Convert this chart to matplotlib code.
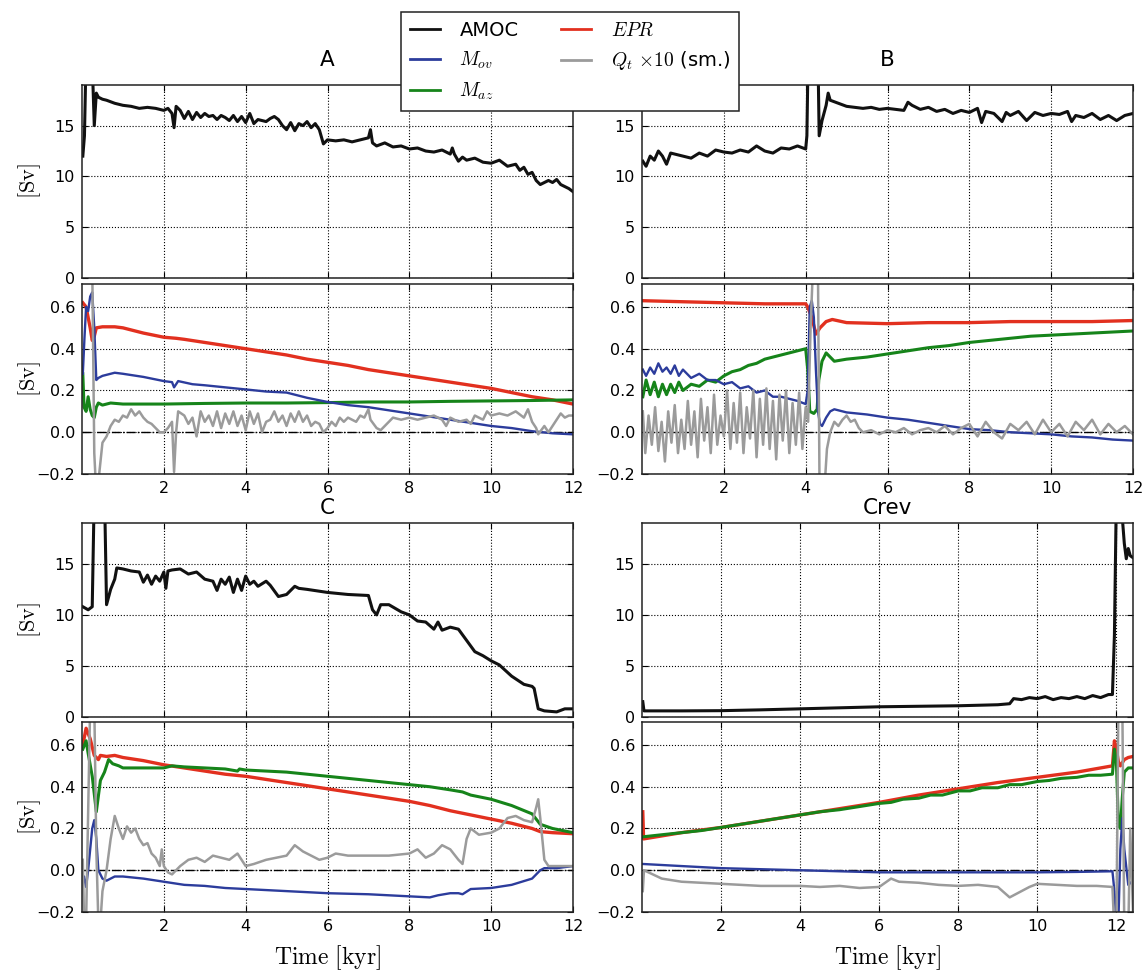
import numpy as np
import matplotlib
matplotlib.use("Agg")
import matplotlib.pyplot as plt

plt.rcParams['mathtext.fontset'] = 'cm'
plt.rcParams['font.family'] = 'DejaVu Sans'

# ---------------- panel A ----------------
a_amoc_t = [0.02,0.06,0.10,0.14,0.20,0.26,0.30,0.35,0.40,0.50,
            0.60,0.80,1.00,1.20,1.40,1.60,1.80,2.00,2.10,2.20,
            2.25,2.30,2.40,2.50,2.60,2.70,2.80,2.90,3.00,3.10,
            3.20,3.30,3.40,3.50,3.60,3.70,3.80,3.90,4.00,4.10,
            4.20,4.30,4.40,4.50,4.60,4.70,4.80,4.90,5.00,5.10,
            5.20,5.30,5.40,5.50,5.60,5.70,5.80,5.90,6.00,6.20,
            6.40,6.60,6.80,7.00,7.05,7.10,7.20,7.40,7.60,7.80,
            8.00,8.20,8.40,8.60,8.80,9.00,9.05,9.10,9.20,9.30,
            9.40,9.60,9.80,10.0,10.2,10.4,10.6,10.7,10.8,10.9,
            11.0,11.1,11.2,11.4,11.5,11.6,11.7,11.8,11.9,12.0]
a_amoc = [12.0,14.0,22.0,24.0,22.0,20.0,15.0,18.2,17.8,17.6,
          17.5,17.2,17.0,16.9,16.7,16.8,16.7,16.5,16.7,16.2,
          14.8,16.9,16.5,15.7,16.4,15.6,16.3,15.8,16.2,15.9,
          16.0,15.6,16.0,15.8,15.5,16.0,15.4,15.9,15.3,16.2,
          15.2,15.6,15.5,15.4,15.7,15.9,15.6,15.0,14.6,15.3,
          14.5,15.2,15.0,15.4,14.8,15.2,14.6,13.2,13.6,13.5,
          13.6,13.4,13.6,13.8,14.6,13.3,13.0,13.3,12.9,13.0,
          12.7,12.8,12.5,12.4,12.6,12.2,12.8,12.2,11.5,11.9,
          11.6,11.8,11.4,11.3,11.6,11.0,11.2,10.6,10.9,10.2,
          10.4,9.6,9.2,9.6,9.4,9.7,9.2,9.0,8.8,8.5]

a_epr_t = [0.02,0.1,0.2,0.25,0.3,0.35,0.5,0.8,1.0,1.2,1.5,2.0,2.3,2.5,3.0,3.5,
           4.0,4.5,5.0,5.5,6.0,6.5,7.0,7.5,8.0,8.5,9.0,9.5,10.0,10.5,11.0,11.5,12.0]
a_epr = [0.62,0.6,0.5,0.44,0.46,0.5,0.505,0.505,0.5,0.49,0.475,0.455,0.45,0.445,0.43,0.415,
         0.40,0.385,0.37,0.35,0.335,0.32,0.30,0.285,0.27,0.255,0.24,0.225,0.21,0.19,0.17,0.155,0.135]

a_mov_t = [0.02,0.06,0.10,0.15,0.20,0.25,0.30,0.35,0.40,0.50,
           0.80,1.00,1.50,2.00,2.20,2.25,2.35,2.70,3.00,3.50,
           4.00,4.50,5.00,5.50,6.00,6.50,7.00,7.50,8.00,8.50,
           9.00,9.50,10.0,10.5,11.0,11.5,12.0]
a_mov = [0.28,0.45,0.60,0.58,0.65,0.67,0.50,0.25,0.26,0.27,
         0.285,0.28,0.265,0.245,0.24,0.215,0.245,0.23,0.225,0.215,
         0.205,0.195,0.19,0.165,0.145,0.13,0.12,0.105,0.09,0.075,
         0.06,0.045,0.03,0.02,0.005,-0.005,-0.01]

a_maz_t = [0.02,0.05,0.10,0.15,0.20,0.25,0.30,0.35,0.40,0.50,
           0.70,1.00,2.00,3.00,4.00,5.00,6.00,7.00,8.00,9.00,
           10.0,11.0,12.0]
a_maz = [0.28,0.12,0.10,0.17,0.11,0.08,0.07,0.12,0.14,0.13,
         0.14,0.135,0.135,0.138,0.14,0.14,0.142,0.145,0.145,0.148,
         0.15,0.152,0.155]

a_qt_t = [0.02,0.15,0.25,0.30,0.35,0.42,0.50,0.60,0.70,0.80,
          0.90,1.00,1.10,1.20,1.30,1.40,1.50,1.60,1.70,1.80,
          1.90,2.00,2.10,2.20,2.25,2.30,2.35,2.50,2.60,2.70,
          2.80,2.90,3.00,3.10,3.20,3.30,3.40,3.50,3.60,3.70,
          3.80,3.90,4.00,4.10,4.20,4.30,4.40,4.50,4.60,4.70,
          4.80,4.90,5.00,5.10,5.20,5.30,5.40,5.50,5.60,5.70,
          5.80,5.90,6.00,6.10,6.20,6.30,6.40,6.50,6.60,6.70,
          6.80,6.90,7.00,7.05,7.20,7.30,7.40,7.50,7.60,7.80,
          8.00,8.20,8.40,8.60,8.80,8.90,9.00,9.20,9.40,9.50,
          9.60,9.80,9.90,10.0,10.2,10.4,10.6,10.8,10.9,11.0,
          11.1,11.15,11.3,11.4,11.6,11.7,11.8,11.9,12.0]
a_qt = [0.80,0.80,0.80,-0.10,-0.30,-0.20,-0.05,-0.02,0.03,0.06,
        0.05,0.08,0.07,0.11,0.08,0.10,0.07,0.05,0.04,0.02,
        0.00,0.00,0.02,0.05,-0.19,0.00,0.10,0.08,0.04,0.07,
        -0.02,0.10,0.05,0.08,0.03,0.10,0.02,0.09,0.04,0.10,
        0.03,0.08,0.01,0.10,0.04,0.09,0.00,0.05,0.06,0.10,
        0.05,0.08,0.03,0.09,0.05,0.10,0.05,0.08,0.03,0.05,
        0.04,0.00,0.02,0.05,0.03,0.07,0.05,0.07,0.06,0.05,
        0.08,0.07,0.11,0.06,0.02,0.01,0.03,0.05,0.07,0.06,
        0.07,0.06,0.07,0.08,0.06,0.03,0.07,0.05,0.06,0.04,
        0.08,0.06,0.10,0.08,0.09,0.08,0.10,0.07,0.11,0.05,
        0.02,-0.01,0.03,0.00,0.06,0.09,0.07,0.08,0.08]

# ---------------- panel B ----------------
b_amoc_t = [0.02,0.10,0.20,0.30,0.40,0.50,0.60,0.70,0.80,1.00,
            1.20,1.40,1.60,1.80,2.00,2.20,2.40,2.60,2.80,3.00,
            3.20,3.40,3.60,3.80,4.00,4.03,4.06,4.30,4.33,4.40,
            4.50,4.55,4.60,4.80,5.00,5.20,5.40,5.60,5.80,6.00,
            6.20,6.40,6.50,6.60,6.80,7.00,7.20,7.40,7.60,7.80,
            8.00,8.20,8.30,8.40,8.60,8.80,8.90,9.00,9.20,9.40,
            9.60,9.80,10.0,10.2,10.4,10.5,10.6,10.8,11.0,11.2,
            11.4,11.6,11.8,12.0]
b_amoc = [11.5,11.0,12.0,11.6,12.5,12.0,11.2,12.3,12.2,12.0,
          11.8,12.3,12.0,12.6,12.4,12.3,12.6,12.4,13.0,12.5,
          12.3,12.8,12.7,13.0,12.7,14.0,22.0,22.0,14.0,15.5,
          17.0,18.2,17.5,17.2,16.9,16.8,16.7,16.8,16.6,16.7,
          16.6,16.5,17.3,17.0,16.6,16.8,16.4,16.6,16.2,16.5,
          16.3,16.7,15.3,16.4,16.2,15.4,16.3,16.0,16.4,15.5,
          16.3,16.0,16.2,16.1,16.4,15.4,16.0,15.8,16.2,15.6,
          16.0,15.5,16.0,16.2]

b_epr_t = [0.02,1.0,2.0,3.0,4.0,4.05,4.15,4.25,4.35,4.50,
           4.65,5.0,6.0,7.0,8.0,9.0,10.0,11.0,12.0]
b_epr = [0.63,0.625,0.62,0.615,0.615,0.60,0.55,0.47,0.50,0.53,
         0.54,0.525,0.52,0.525,0.525,0.53,0.53,0.53,0.535]

b_mov_t = [0.02,0.10,0.20,0.30,0.40,0.50,0.60,0.70,0.80,0.90,
           1.00,1.20,1.40,1.60,1.80,2.00,2.20,2.40,2.60,2.80,
           3.00,3.20,3.40,3.60,3.80,4.00,4.05,4.10,4.15,4.20,
           4.25,4.30,4.35,4.40,4.50,4.60,4.70,5.00,5.50,6.00,
           6.50,7.00,7.50,8.00,8.50,9.00,9.50,10.0,10.5,11.0,
           11.5,12.0]
b_mov = [0.30,0.27,0.31,0.28,0.33,0.29,0.31,0.28,0.32,0.27,
         0.30,0.26,0.28,0.25,0.25,0.23,0.24,0.21,0.22,0.19,
         0.20,0.17,0.17,0.16,0.15,0.135,0.20,0.60,0.63,0.55,
         0.30,0.10,0.04,0.03,0.07,0.10,0.11,0.095,0.085,0.07,
         0.06,0.045,0.03,0.015,0.01,0.0,-0.005,-0.01,-0.02,-0.025,
         -0.035,-0.04]

b_maz_t = [0.02,0.10,0.20,0.30,0.40,0.50,0.60,0.70,0.80,0.90,
           1.00,1.20,1.40,1.60,1.80,2.00,2.20,2.40,2.60,2.80,
           3.00,3.20,3.40,3.60,3.80,4.00,4.05,4.10,4.20,4.28,
           4.32,4.40,4.50,4.60,4.70,5.00,5.50,6.00,6.50,7.00,
           7.50,8.00,8.50,9.00,9.50,10.0,10.5,11.0,11.5,12.0]
b_maz = [0.17,0.25,0.18,0.24,0.17,0.23,0.18,0.23,0.19,0.24,
         0.20,0.23,0.22,0.25,0.24,0.27,0.29,0.30,0.32,0.33,
         0.35,0.36,0.37,0.38,0.39,0.40,0.30,0.10,0.09,0.11,
         0.25,0.34,0.38,0.36,0.34,0.35,0.36,0.375,0.39,0.405,
         0.415,0.43,0.44,0.45,0.46,0.465,0.47,0.475,0.48,0.485]

b_qt_t = [0.02,0.08,0.16,0.24,0.32,0.40,0.48,0.56,0.64,0.72,
          0.80,0.88,0.96,1.04,1.12,1.20,1.28,1.36,1.44,1.52,
          1.60,1.68,1.76,1.84,1.92,2.00,2.08,2.16,2.24,2.32,
          2.40,2.48,2.56,2.64,2.72,2.80,2.88,2.96,3.04,3.12,
          3.20,3.28,3.36,3.44,3.52,3.60,3.68,3.76,3.84,3.92,
          4.00,
          4.06,4.12,4.18,4.30,4.34,4.45,4.52,4.6,4.7,4.8,
          4.9,5.0,5.1,5.2,5.3,5.4,5.6,5.8,6.0,6.2,
          6.4,6.6,6.8,7.0,7.2,7.4,7.6,7.8,8.0,8.2,
          8.4,8.6,8.8,9.0,9.2,9.4,9.6,9.8,10.0,10.2,
          10.4,10.6,10.8,11.0,11.2,11.4,11.6,11.8,12.0]
b_qt = [0.10,-0.10,0.08,-0.06,0.12,-0.09,0.05,-0.14,0.10,-0.05,
        0.13,-0.10,0.06,-0.08,0.15,-0.06,0.10,-0.12,0.16,-0.04,
        0.12,-0.10,0.18,-0.06,0.08,-0.02,0.20,-0.08,0.14,-0.05,
        0.19,-0.10,0.12,-0.03,0.20,-0.12,0.16,-0.06,0.21,-0.08,
        0.15,-0.13,0.18,-0.04,0.20,-0.10,0.14,-0.06,0.19,-0.08,
        0.12,
        0.05,0.5,0.8,0.8,-0.3,-0.3,-0.08,0.0,0.05,0.03,
        0.06,0.08,0.05,0.06,0.02,0.0,0.01,-0.01,0.01,0.0,
        0.02,-0.01,0.01,0.02,0.0,0.03,-0.01,0.02,0.04,-0.02,
        0.05,0.0,-0.03,0.04,0.01,0.05,-0.01,0.06,0.0,0.04,
        -0.02,0.05,0.01,0.06,-0.01,0.04,0.0,0.03,-0.01]

# ---------------- panel C ----------------
c_amoc_t = [0.02,0.15,0.25,0.30,0.55,0.60,0.70,0.80,0.85,1.00,
            1.20,1.40,1.50,1.60,1.70,1.80,1.90,2.00,2.05,2.10,
            2.20,2.40,2.60,2.80,3.00,3.20,3.30,3.40,3.50,3.60,
            3.70,3.80,3.90,4.00,4.10,4.20,4.30,4.50,4.60,4.80,
            5.00,5.20,5.30,5.50,6.00,6.50,7.00,7.10,7.20,7.30,
            7.50,7.80,8.00,8.20,8.40,8.60,8.70,8.80,9.00,9.20,
            9.40,9.60,9.80,10.0,10.2,10.5,10.8,11.0,11.05,11.15,
            11.3,11.6,11.8,12.0]
c_amoc = [10.8,10.5,10.8,22.0,22.0,11.0,12.5,13.5,14.6,14.5,
          14.3,14.2,13.2,13.9,13.0,13.8,13.3,14.2,12.6,14.3,
          14.4,14.5,14.0,14.2,13.5,13.3,12.4,13.5,13.0,13.7,
          12.2,13.5,12.4,13.8,13.0,13.3,12.8,13.3,12.9,11.8,
          12.0,12.8,12.6,12.5,12.2,12.0,11.9,10.5,10.0,11.0,
          11.0,10.3,10.0,9.4,9.3,8.6,9.3,8.5,8.8,8.6,
          7.5,6.4,6.0,5.5,5.1,4.0,3.2,3.0,2.8,0.8,
          0.6,0.5,0.8,0.8]

c_epr_t = [0.02,0.10,0.20,0.30,0.40,0.45,0.60,0.80,1.00,1.50,
           2.00,2.50,3.00,3.50,4.00,4.50,5.00,5.50,6.00,6.50,
           7.00,7.50,8.00,8.50,9.00,9.50,10.0,10.5,11.0,11.2,
           11.5,12.0]
c_epr = [0.60,0.68,0.63,0.55,0.53,0.55,0.545,0.55,0.54,0.525,
         0.505,0.49,0.475,0.46,0.45,0.435,0.42,0.405,0.39,0.375,
         0.36,0.345,0.33,0.31,0.285,0.265,0.245,0.225,0.20,0.185,
         0.18,0.175]

c_maz_t = [0.02,0.10,0.15,0.25,0.35,0.45,0.55,0.65,0.75,0.90,
           1.00,1.50,2.00,2.20,2.50,3.00,3.50,3.80,3.85,4.00,
           4.50,5.00,5.50,6.00,6.50,7.00,7.50,8.00,8.50,9.00,
           9.30,9.50,10.0,10.5,11.0,11.2,11.5,12.0]
c_maz = [0.58,0.62,0.56,0.45,0.28,0.43,0.47,0.53,0.51,0.50,
         0.49,0.49,0.49,0.50,0.495,0.49,0.485,0.475,0.485,0.48,
         0.475,0.47,0.46,0.45,0.44,0.43,0.42,0.41,0.40,0.385,
         0.375,0.36,0.34,0.31,0.27,0.22,0.20,0.18]

c_mov_t = [0.02,0.05,0.10,0.15,0.25,0.30,0.35,0.40,0.50,0.60,
           0.80,1.00,1.50,2.00,2.50,3.00,3.50,4.00,5.00,6.00,
           7.00,8.00,8.50,8.70,9.00,9.20,9.30,9.50,10.0,10.5,
           11.0,11.2,11.3,11.6,12.0]
c_mov = [-0.05,-0.03,-0.08,0.0,0.20,0.24,0.15,0.0,-0.04,-0.05,
         -0.03,-0.03,-0.04,-0.055,-0.07,-0.075,-0.085,-0.09,-0.10,-0.11,
         -0.115,-0.125,-0.13,-0.12,-0.11,-0.11,-0.115,-0.09,-0.085,-0.07,
         -0.04,0.0,0.01,0.01,0.02]

c_qt_t = [0.02,0.05,0.10,0.20,0.30,0.35,0.40,0.45,0.50,0.60,
          0.70,0.80,0.90,1.00,1.10,1.20,1.30,1.40,1.50,1.60,
          1.70,1.80,1.90,1.95,2.00,2.10,2.20,2.40,2.60,2.80,
          3.00,3.20,3.40,3.60,3.80,4.00,4.20,4.50,5.00,5.20,
          5.40,5.60,5.80,6.00,6.20,6.50,7.00,7.50,8.00,8.20,
          8.40,8.60,8.80,9.00,9.20,9.30,9.40,9.50,9.70,10.0,
          10.2,10.4,10.6,10.8,11.0,11.1,11.15,11.2,11.3,11.4,
          11.6,12.0]
c_qt = [0.05,-0.25,-0.25,0.80,0.80,0.10,-0.25,-0.25,-0.10,0.0,
        0.15,0.26,0.20,0.15,0.21,0.18,0.20,0.15,0.12,0.13,
        0.08,0.06,0.02,0.10,0.02,-0.01,-0.02,0.02,0.05,0.06,
        0.04,0.07,0.06,0.05,0.08,0.02,0.03,0.05,0.07,0.12,
        0.09,0.07,0.05,0.06,0.08,0.07,0.07,0.07,0.08,0.10,
        0.06,0.08,0.12,0.10,0.05,0.03,0.15,0.20,0.17,0.18,
        0.20,0.25,0.26,0.24,0.23,0.30,0.34,0.25,0.05,0.02,
        0.02,0.02]

# ---------------- panel Crev ----------------
r_amoc_t = [0.02,0.05,1.0,2.0,3.0,4.0,5.0,6.0,7.0,8.0,
            9.0,9.3,9.4,9.6,9.8,10.0,10.2,10.4,10.6,10.8,
            11.0,11.2,11.4,11.6,11.8,11.9,11.95,12.0,12.1,12.2,
            12.25,12.3,12.35,12.42]
r_amoc = [1.5,0.6,0.6,0.62,0.7,0.8,0.9,1.0,1.05,1.1,
          1.2,1.3,1.8,1.7,1.9,1.8,2.0,1.7,1.9,1.8,
          2.0,1.8,2.1,1.9,2.2,2.2,8.0,22.0,22.0,17.0,
          15.5,16.5,15.8,15.6]

r_epr_t = [0.02,0.04,1.0,2.0,3.0,4.0,5.0,6.0,7.0,8.0,
           9.0,10.0,11.0,11.9,11.95,12.0,12.05,12.1,12.2,12.3,
           12.42]
r_epr = [0.28,0.15,0.18,0.205,0.235,0.265,0.295,0.325,0.36,0.39,
         0.42,0.445,0.47,0.50,0.62,0.58,0.52,0.50,0.53,0.54,
         0.545]

r_maz_t = [0.02,0.5,1.0,1.5,2.0,2.5,3.0,3.5,4.0,4.5,
           5.0,5.5,6.0,6.3,6.6,7.0,7.3,7.6,8.0,8.3,
           8.6,9.0,9.3,9.6,10.0,10.3,10.6,11.0,11.3,11.6,
           11.9,11.95,12.0,12.05,12.1,12.15,12.2,12.3,12.42]
r_maz = [0.16,0.17,0.18,0.19,0.205,0.22,0.235,0.25,0.265,0.28,
         0.29,0.305,0.32,0.325,0.34,0.345,0.36,0.36,0.38,0.38,
         0.395,0.395,0.41,0.41,0.425,0.43,0.44,0.445,0.455,0.455,
         0.46,0.58,0.52,0.22,0.20,0.35,0.47,0.49,0.49]

r_mov_t = [0.02,1.0,2.0,3.0,4.0,5.0,6.0,7.0,8.0,9.0,
           10.0,11.0,11.9,11.95,12.0,12.05,12.1,12.15,12.2,12.3,
           12.42]
r_mov = [0.03,0.02,0.01,0.005,0.0,-0.005,-0.01,-0.01,-0.01,-0.01,
         -0.01,-0.008,-0.005,-0.10,-0.25,-0.25,0.10,0.25,0.10,-0.07,
         -0.05]

r_qt_t = [0.02,0.05,0.5,1.0,2.0,2.5,3.0,4.0,4.5,5.0,
          5.5,6.0,6.3,6.5,7.0,7.5,8.0,8.5,9.0,9.3,
          9.5,9.8,10.0,10.5,11.0,11.5,11.9,11.95,12.0,12.05,
          12.15,12.2,12.3,12.35,12.42]
r_qt = [-0.10,0.0,-0.04,-0.055,-0.065,-0.07,-0.075,-0.075,-0.08,-0.075,
        -0.085,-0.08,-0.04,-0.055,-0.06,-0.07,-0.075,-0.07,-0.08,-0.13,
        -0.11,-0.08,-0.065,-0.07,-0.075,-0.075,-0.08,-0.30,-0.30,0.80,
        0.80,-0.30,-0.30,0.20,-0.20]

panel_names = ["A", "B", "C", "Crev"]
x_max = [12.0, 12.0, 12.0, 12.42]

col_black = "#111111"
col_red = "#e2301f"
col_blue = "#2c3c9c"
col_green = "#16841a"
col_gray = "#9b9b9b"

panels = {
    "A": (a_amoc_t, a_amoc, a_epr_t, a_epr, a_maz_t, a_maz, a_mov_t, a_mov, a_qt_t, a_qt),
    "B": (b_amoc_t, b_amoc, b_epr_t, b_epr, b_maz_t, b_maz, b_mov_t, b_mov, b_qt_t, b_qt),
    "C": (c_amoc_t, c_amoc, c_epr_t, c_epr, c_maz_t, c_maz, c_mov_t, c_mov, c_qt_t, c_qt),
    "Crev": (r_amoc_t, r_amoc, r_epr_t, r_epr, r_maz_t, r_maz, r_mov_t, r_mov, r_qt_t, r_qt),
}

W, H = 1147, 973
fig = plt.figure(figsize=(W / 100, H / 100), dpi=100)

col_x = [82, 642]
col_w = 491
rows = [(85, 278, 284, 474), (523, 717, 722, 912)]
title_y = [60, 508]


def frac(x0, y0, x1, y1):
    return [x0 / W, 1 - y1 / H, (x1 - x0) / W, (y1 - y0) / H]


def style(ax):
    ax.tick_params(direction="in", top=True, right=True, labelsize=11.5,
                   length=4, width=0.8, pad=5)
    ax.grid(True, color="k", linestyle=":", linewidth=0.8)
    for s in ax.spines.values():
        s.set_linewidth(1.1)
        s.set_color("#222222")


handles = None
for i, name in enumerate(panel_names):
    r, c = divmod(i, 2)
    y_top0, y_top1, y_bot0, y_bot1 = rows[r]
    x0 = col_x[c]
    xc = (x0 + col_w / 2) / W
    (amoc_t, amoc, epr_t, epr, maz_t, maz, mov_t, mov, qt_t, qt) = panels[name]

    ax1 = fig.add_axes(frac(x0, y_top0, x0 + col_w, y_top1))
    ax2 = fig.add_axes(frac(x0, y_bot0, x0 + col_w, y_bot1))

    h_amoc, = ax1.plot(amoc_t, amoc, color=col_black, lw=2.2, label="AMOC")
    ax1.set_ylim(0, 19)
    ax1.set_yticks([0, 5, 10, 15])
    ax1.set_xlim(0, x_max[i])
    ax1.set_xticks([2, 4, 6, 8, 10, 12])
    ax1.set_xticklabels([])
    style(ax1)
    fig.text(xc, 1 - title_y[r] / H, name, fontsize=15.5, ha="center", va="center")

    ax2.axhline(0, color="k", linestyle="-.", lw=1.0)
    h_epr, = ax2.plot(epr_t, epr, color=col_red, lw=2.4, label=r"$EPR$")
    h_maz, = ax2.plot(maz_t, maz, color=col_green, lw=2.2, label=r"$M_{az}$")
    h_mov, = ax2.plot(mov_t, mov, color=col_blue, lw=1.7, label=r"$M_{ov}$")
    h_qt, = ax2.plot(qt_t, qt, color=col_gray, lw=1.8, label=r"$Q_t$ $\times 10$ (sm.)")
    ax2.set_ylim(-0.2, 0.71)
    ax2.set_yticks([-0.2, 0.0, 0.2, 0.4, 0.6])
    ax2.set_yticklabels(["\u22120.2", "0.0", "0.2", "0.4", "0.6"])
    ax2.set_xlim(0, x_max[i])
    ax2.set_xticks([2, 4, 6, 8, 10, 12])
    style(ax2)

    if c == 0:
        for (ya, yb) in [(y_top0, y_top1), (y_bot0, y_bot1)]:
            fig.text(30 / W, 1 - (ya + yb) / 2 / H, r"$[\mathrm{Sv}]$", fontsize=16,
                     rotation=90, ha="center", va="center")
    if r == 1:
        fig.text(xc, 1 - 958 / H, r"$\mathrm{Time\ [kyr]}$", fontsize=17,
                 ha="center", va="center")

    handles = [h_amoc, h_mov, h_maz, h_epr, h_qt]

leg = fig.legend(handles, [h.get_label() for h in handles], ncol=2,
                 loc="upper center", bbox_to_anchor=(570 / W, 1 - 12 / H),
                 borderaxespad=0, fontsize=14, fancybox=False, framealpha=1,
                 edgecolor="#222222", handlelength=1.55, handletextpad=1.0,
                 columnspacing=2.2, borderpad=0.45, labelspacing=0.5)
leg.get_frame().set_linewidth(1.1)
for ln in leg.get_lines():
    ln.set_linewidth(2.0)

fig.savefig("out.png", dpi=100)
